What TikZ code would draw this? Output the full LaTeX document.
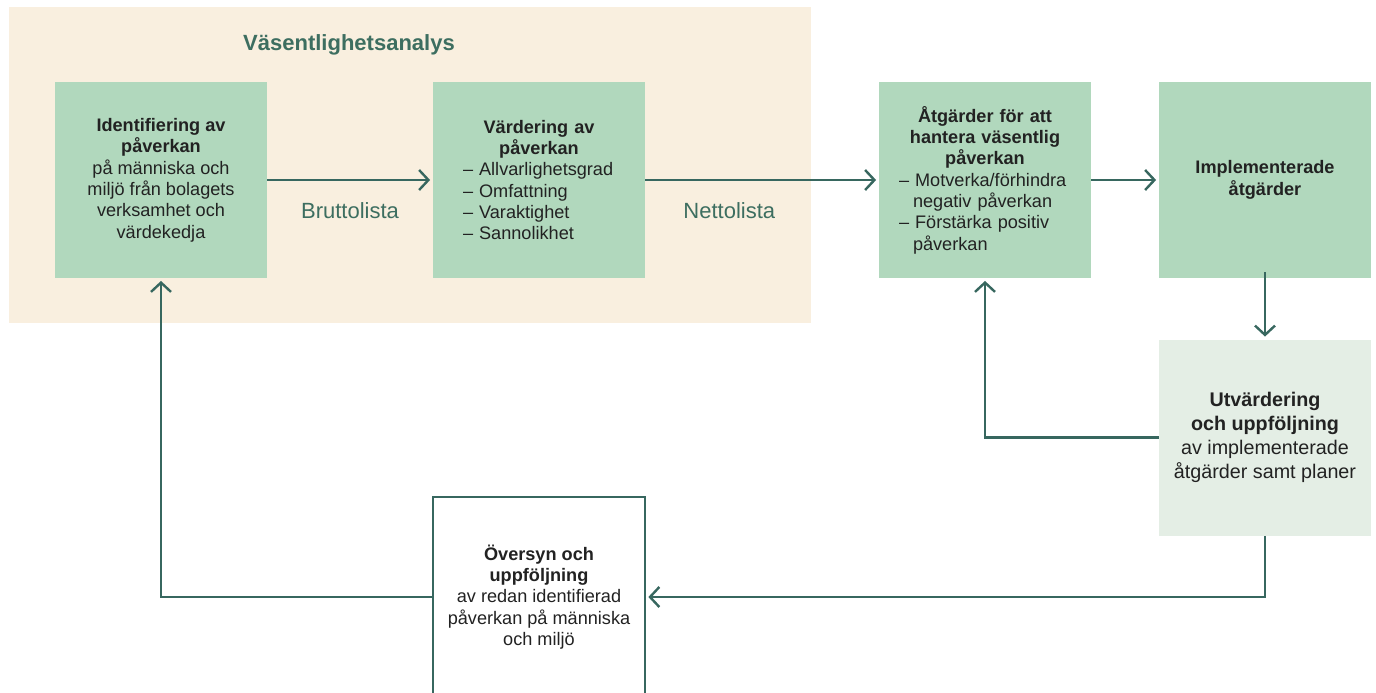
\documentclass[tikz,border=0pt]{standalone}
\usepackage{fontspec}
\setmainfont{Liberation Sans}
\usetikzlibrary{arrows.meta}
\definecolor{beige}{HTML}{F9EFDF}
\definecolor{boxgreen}{HTML}{B1D8BD}
\definecolor{lightgreen}{HTML}{E4EEE5}
\definecolor{arrowcol}{HTML}{37675F}
\definecolor{titlecol}{HTML}{3D6E60}
\definecolor{txt}{HTML}{222222}
\begin{document}
\begin{tikzpicture}[x=0.75pt,y=-0.75pt,
  box/.style={fill=boxgreen, minimum width=159pt, minimum height=147pt, inner sep=0pt,
    text=txt, font=\fontsize{13.6}{16}\selectfont, align=center},
  arr/.style={draw=arrowcol, line width=1.8pt,
    -{Straight Barb[length=7pt,width=15pt,line width=1.8pt]}, shorten >=2pt},
  lbl/.style={text=titlecol, font=\fontsize{16.5}{19}\selectfont}
]
\clip (0,0) rectangle (1376,692);
\fill[white] (0,0) rectangle (1376,692);
\fill[beige] (9,7) rectangle (811,323);
\node[lbl, font=\bfseries\fontsize{16.5}{19}\selectfont] (title) at (349,45) {Väsentlighetsanalys};

\node[box] (b1) at (161,180) {\textbf{Identifiering av}\\\textbf{påverkan}\\på människa och\\miljö från bolagets\\verksamhet och\\värdekedja};

\node[box, text width=114pt, align=left] (b2) at (539,180) {{\centering\textbf{Värdering av}\\\textbf{påverkan}\par}
– Allvarlighetsgrad\\– Omfattning\\– Varaktighet\\– Sannolikhet};

\node[box, text width=129pt, align=left] (b3) at (985,180) {{\centering\textbf{Åtgärder för att}\\\textbf{hantera väsentlig}\\\textbf{påverkan}\par}
– Motverka/förhindra\\\hspace*{10.5pt}negativ påverkan\\– Förstärka positiv\\\hspace*{10.5pt}påverkan};

\node[box] (b4) at (1265,180) {\textbf{Implementerade}\\\textbf{åtgärder}};

\node[box, fill=lightgreen, font=\fontsize{14.8}{17.9}\selectfont] (b5) at (1265,437.5) {\textbf{Utvärdering}\\\textbf{och uppföljning}\\av implementerade\\åtgärder samt planer};

\node[box, fill=white, draw=arrowcol, line width=1pt, minimum height=150pt] (b6) at (539,597) {\textbf{Översyn och}\\\textbf{uppföljning}\\av redan identifierad\\påverkan på människa\\och miljö};

\draw[arr] (b1.east) -- (b2.west) node[lbl, midway, below=13pt] (brutto) {Bruttolista};
\draw[arr] (b2.east) -- (b3.west) node[lbl, pos=0.36, below=13pt] (netto) {Nettolista};
\draw[arr] (b3.east) -- (b4.west);
\draw[arr] ([yshift=4.5pt]b4.south) -- (b5.north);
\draw[arr] (b5.west) -| (b3.south);
\draw[arr] (b5.south) |- (b6.east);
\draw[arr] (b6.west) -| (b1.south);
\end{tikzpicture}
\end{document}
